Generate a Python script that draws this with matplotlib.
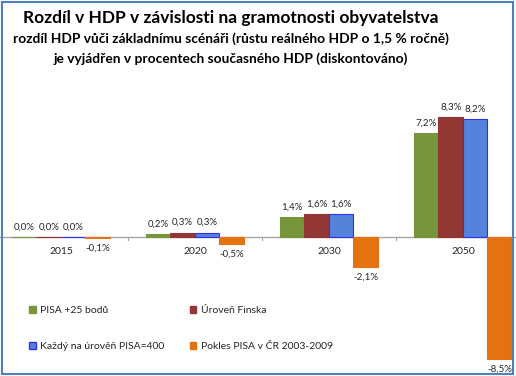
import matplotlib.pyplot as plt
import numpy as np
from matplotlib.patches import Patch, Rectangle

plt.rcParams['font.family'] = ['Lato', 'DejaVu Sans']

years = ['2015', '2020', '2030', '2050']
series = ['PISA +25 bodů', 'Úroveň Finska', 'Každý na úrověň PISA=400', 'Pokles PISA v ČR 2003-2009']
pisa25 = [0.0, 0.2, 1.4, 7.2]
finsko = [0.0, 0.3, 1.6, 8.3]
pisa400 = [0.0, 0.3, 1.6, 8.2]
pokles = [-0.1, -0.5, -2.1, -8.5]

colors = ['#77963C', '#933735', '#5582DA', '#E3720F']
edges = ['#77963C', '#933735', '#3030F0', '#E3720F']

fig = plt.figure(figsize=(5.16, 3.76), dpi=100)
ax = fig.add_axes([0, 0, 1, 1])
ax.set_xlim(-0.455, 3.396)
ax.set_ylim(-9.65, 16.45)
ax.axis('off')

x = np.arange(len(years))
w = 0.183
handles = []
for i, (vals, c, e) in enumerate(zip([pisa25, finsko, pisa400, pokles], colors, edges)):
    pos = x + (i - 1.5) * w
    ax.bar(pos, vals, w, color=c, edgecolor=e, linewidth=0.8, zorder=2)
    for px, v in zip(pos, vals):
        lab = f'{v:.1f}%'.replace('.', ',')
        if v >= 0:
            ax.annotate(lab, (px, v), xytext=(0, 4), textcoords='offset points',
                        ha='center', va='bottom', fontsize=7, color='#262626')
        else:
            ax.annotate(lab, (px, v), xytext=(0, -4), textcoords='offset points',
                        ha='center', va='top', fontsize=7, color='#262626')
    handles.append(Patch(facecolor=c, edgecolor=e, label=series[i]))

# zero line and category ticks
ax.axhline(0, color='#A6A6A6', linewidth=1, zorder=1)
for b in [0.5, 1.5, 2.5]:
    ax.plot([b, b], [0, -0.2], color='#A6A6A6', linewidth=0.8)
for xi, y in zip(x, years):
    ax.text(xi, -0.7, y, ha='center', va='top', fontsize=7.5, color='#262626')

leg = ax.legend([handles[0], handles[2], handles[1], handles[3]],
                [series[0], series[2], series[1], series[3]],
                ncol=2, loc='upper left', bbox_to_anchor=(0.049, 0.197),
                bbox_transform=fig.transFigure, frameon=False, fontsize=7.5,
                handlelength=0.6, handleheight=0.6, handletextpad=0.4,
                labelspacing=2.6, columnspacing=2.5, borderaxespad=0)
for t in leg.get_texts():
    t.set_color('#262626')

fig.text(0.447, 0.953, 'Rozdíl v HDP v závislosti na gramotnosti obyvatelstva',
         ha='center', va='center', fontsize=12.5, fontweight='bold')
fig.text(0.447, 0.898, 'rozdíl HDP vůči základnímu scénáři (růstu reálného HDP o 1,5 % ročně)',
         ha='center', va='center', fontsize=9.9, fontweight='bold')
fig.text(0.447, 0.845, 'je vyjádřen v procentech současného HDP (diskontováno)',
         ha='center', va='center', fontsize=9.9, fontweight='bold')

fig.patches.append(Rectangle((0.004, 0.005), 0.99, 0.99, transform=fig.transFigure,
                             fill=False, edgecolor='#4F81BD', linewidth=1.5))

fig.savefig('out.png', dpi=100)
